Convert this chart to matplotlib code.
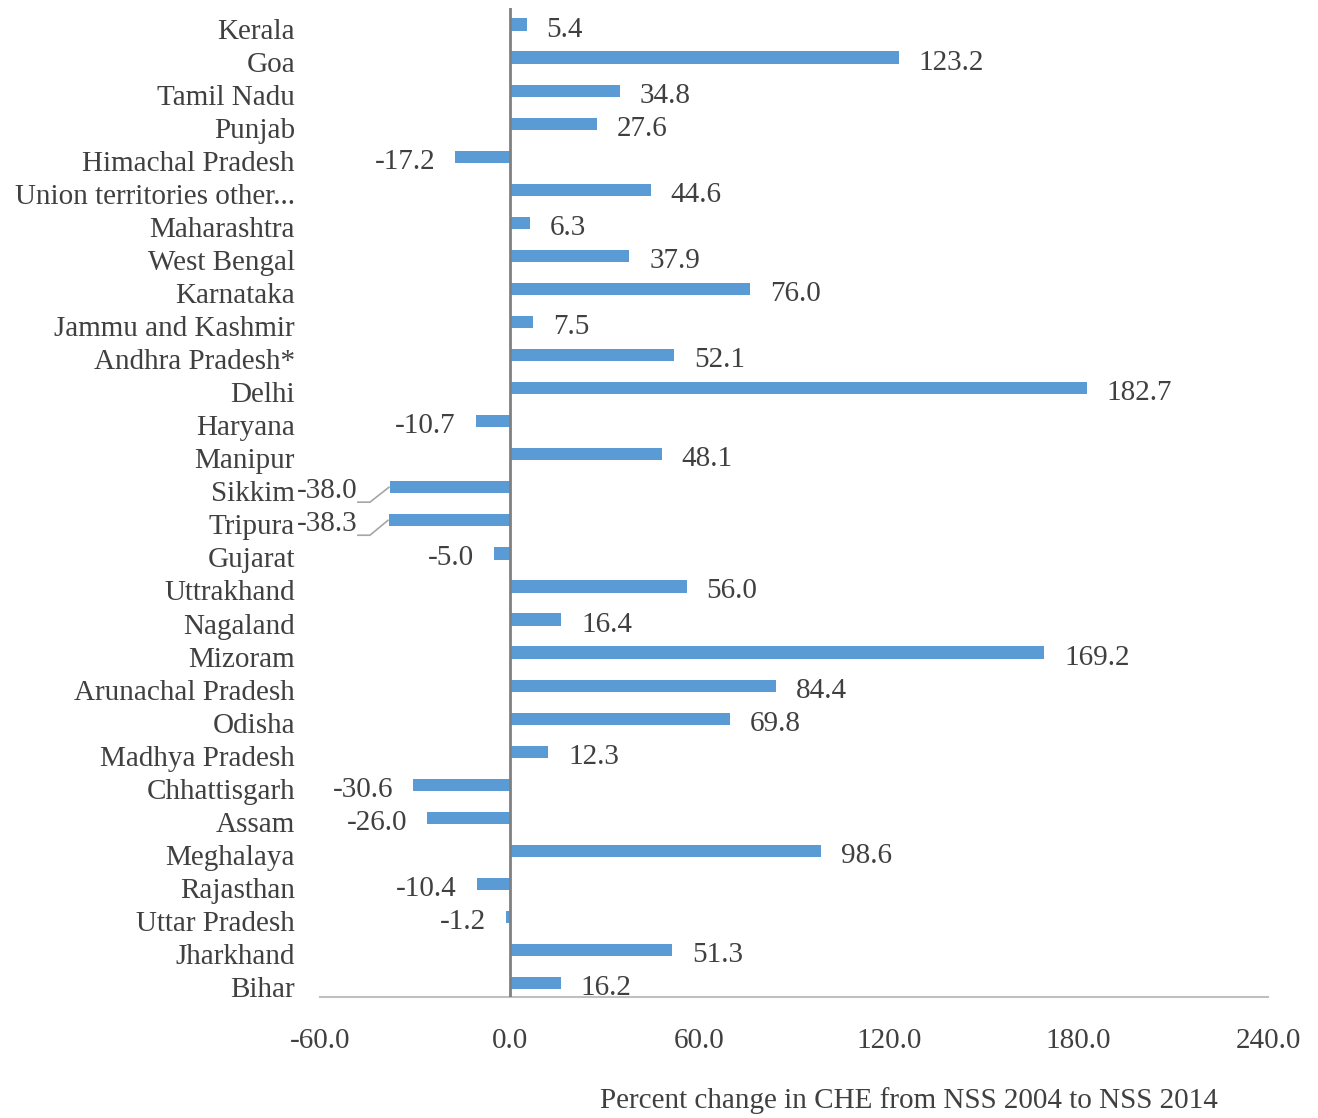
import matplotlib
matplotlib.use("Agg")
import matplotlib.pyplot as plt
import matplotlib.transforms as mtransforms
import numpy as np

# states, top to bottom as in the chart
states = ["Kerala", "Goa", "Tamil Nadu", "Punjab", "Himachal Pradesh",
          "Union territories other...", "Maharashtra", "West Bengal", "Karnataka",
          "Jammu and Kashmir", "Andhra Pradesh*", "Delhi", "Haryana", "Manipur",
          "Sikkim", "Tripura", "Gujarat", "Uttrakhand", "Nagaland", "Mizoram",
          "Arunachal Pradesh", "Odisha", "Madhya Pradesh", "Chhattisgarh", "Assam",
          "Meghalaya", "Rajasthan", "Uttar Pradesh", "Jharkhand", "Bihar"]
pct_change = [5.4, 123.2, 34.8, 27.6, -17.2, 44.6, 6.3, 37.9, 76.0, 7.5, 52.1,
              182.7, -10.7, 48.1, -38.0, -38.3, -5.0, 56.0, 16.4, 169.2, 84.4,
              69.8, 12.3, -30.6, -26.0, 98.6, -10.4, -1.2, 51.3, 16.2]
x_ticks = [-60, 0, 60, 120, 180, 240]
leader_states = ["Sikkim", "Tripura"]

plt.rcParams['font.family'] = ['Liberation Serif', 'DejaVu Serif']
text_color = '#404040'
fs = 21

fig = plt.figure(figsize=(13.18, 11.18), dpi=100)
ax = fig.add_axes([320 / 1318, 1 - 997 / 1118, (1268 - 320) / 1318, (997 - 8) / 1118])

y = np.arange(len(states))
ax.barh(y, pct_change, height=0.37, color='#5B9BD5', zorder=2)
ax.set_ylim(len(states) - 0.58, -0.5)
ax.set_xlim(-60, 240)

ax.set_yticks(y)
ax.set_yticklabels(states, fontsize=fs, color=text_color)
ax.tick_params(axis='y', length=0, pad=18)
# labels sit a few pixels below the bar centre in the reference
shift = mtransforms.ScaledTranslation(0, -4 / 100, fig.dpi_scale_trans)
for t in ax.get_yticklabels():
    t.set_transform(t.get_transform() + shift)
ax.set_xticks(x_ticks)
ax.set_xticklabels([f"{t:.1f}" for t in x_ticks], fontsize=fs, color=text_color)
ax.tick_params(axis='x', length=0, pad=22)

for s in ['top', 'right', 'left']:
    ax.spines[s].set_visible(False)
ax.spines['bottom'].set_color('#BFBFBF')
ax.spines['bottom'].set_linewidth(1.5)
ax.axvline(0, color='#808080', linewidth=2, zorder=3)

# data labels
for i, (name, v) in enumerate(zip(states, pct_change)):
    lab = f"{v:.1f}"
    if name in leader_states:
        ax.annotate(lab, xy=(-48, i + 0.12), ha='right', va='center', fontsize=fs,
                    color=text_color, annotation_clip=False)
        ax.plot([-48, -44.2, v - 0.2], [i + 0.45, i + 0.45, i], color='#A6A6A6',
                linewidth=1.2, clip_on=False, zorder=1)
    elif v >= 0:
        ax.annotate(lab, xy=(v, i), xytext=(20, -5), textcoords='offset pixels',
                    ha='left', va='center', fontsize=fs, color=text_color)
    else:
        ax.annotate(lab, xy=(v, i), xytext=(-20, -5), textcoords='offset pixels',
                    ha='right', va='center', fontsize=fs, color=text_color)

fig.text(909 / 1318, 1 - 1101 / 1118, "Percent change in CHE from NSS 2004 to NSS 2014",
         ha='center', va='center', fontsize=fs, color=text_color)

fig.savefig("out.png", dpi=100)
